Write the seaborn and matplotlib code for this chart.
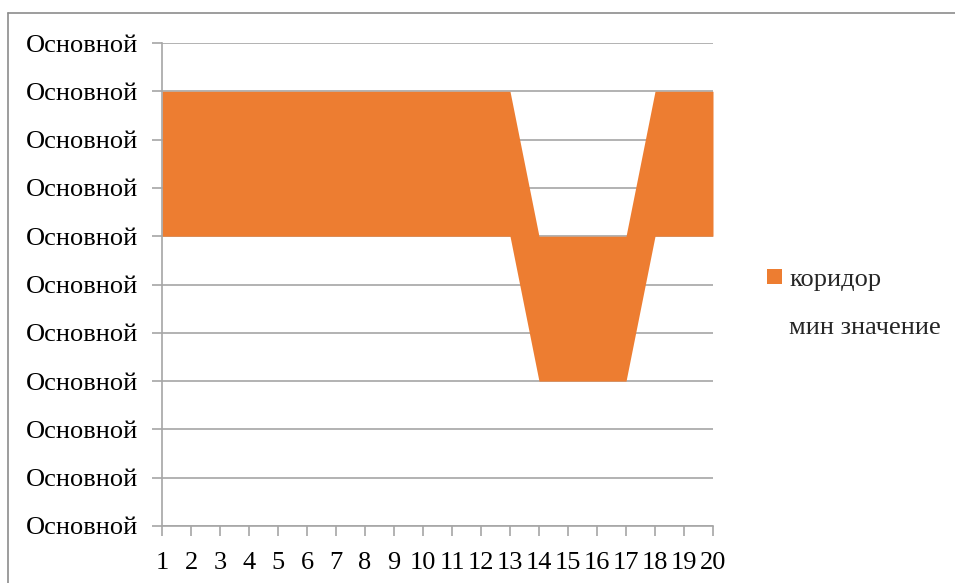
import matplotlib
matplotlib.use("Agg")
import matplotlib.pyplot as plt
from matplotlib.patches import Patch
from matplotlib.lines import Line2D
import numpy as np
import pandas as pd
import seaborn as sns

# Data
categories = list(range(1, 21))
min_values = [6, 6, 6, 6, 6, 6, 6, 6, 6, 6, 6, 6, 6, 3, 3, 3, 3, 6, 6, 6]
corridor = [3] * 20
y_ticks = list(range(0, 11))
y_tick_label = "Основной"
series_names = ["мин значение", "коридор"]

df = pd.DataFrame({"x": categories, series_names[0]: min_values, series_names[1]: corridor})

sns.set_theme(style="white")
plt.rcParams["font.family"] = ["Liberation Serif", "DejaVu Serif"]

ORANGE = "#ED7D31"
GRID = "#A6A6A6"
FS = 19

fig = plt.figure(figsize=(9.55, 5.83), dpi=100)
ax = fig.add_axes([162 / 955, 57 / 583, 551 / 955, 483 / 583])

# Stacked area: invisible base series + orange corridor on top
ax.stackplot(df["x"], df[series_names[0]], df[series_names[1]],
             colors=["none", ORANGE], linewidth=0, zorder=2)

ax.set_xlim(1, 20)
ax.set_ylim(0, 10)
ax.set_xticks(categories)
ax.set_xticklabels([str(c) for c in categories], fontsize=FS)
ax.set_yticks(y_ticks)
ax.set_yticklabels([y_tick_label] * len(y_ticks), fontsize=FS)

ax.yaxis.grid(True, color=GRID, linewidth=1.2, zorder=1)
ax.xaxis.grid(False)
ax.set_axisbelow(True)

for side in ["top", "right"]:
    ax.spines[side].set_visible(False)
for side in ["left", "bottom"]:
    ax.spines[side].set_color(GRID)
    ax.spines[side].set_linewidth(1.2)

ax.tick_params(axis="both", which="both", direction="out", length=7, width=1.2,
               color=GRID, labelcolor="black", bottom=True, left=True)
ax.tick_params(axis="x", pad=12)
ax.tick_params(axis="y", pad=10)
ax.set_xlabel("")
ax.set_ylabel("")

handles = [Patch(facecolor=ORANGE, edgecolor="none"),
           Patch(facecolor="none", edgecolor="none")]
fig.legend(handles, [series_names[1], series_names[0]],
           loc="center left", bbox_to_anchor=(767 / 955, 1 - 304 / 583),
           frameon=False, fontsize=FS, handlelength=0.55, handleheight=0.55,
           handletextpad=0.3, labelspacing=1.0, borderpad=0, borderaxespad=0)

# Outer chart frame
fig.add_artist(Line2D([8 / 955, 8 / 955], [0, 1 - 13 / 583], transform=fig.transFigure,
                      color="#8C8C8C", linewidth=1.2))
fig.add_artist(Line2D([8 / 955, 1], [1 - 13 / 583, 1 - 13 / 583], transform=fig.transFigure,
                      color="#8C8C8C", linewidth=1.2))

fig.savefig("out.png", dpi=100)
